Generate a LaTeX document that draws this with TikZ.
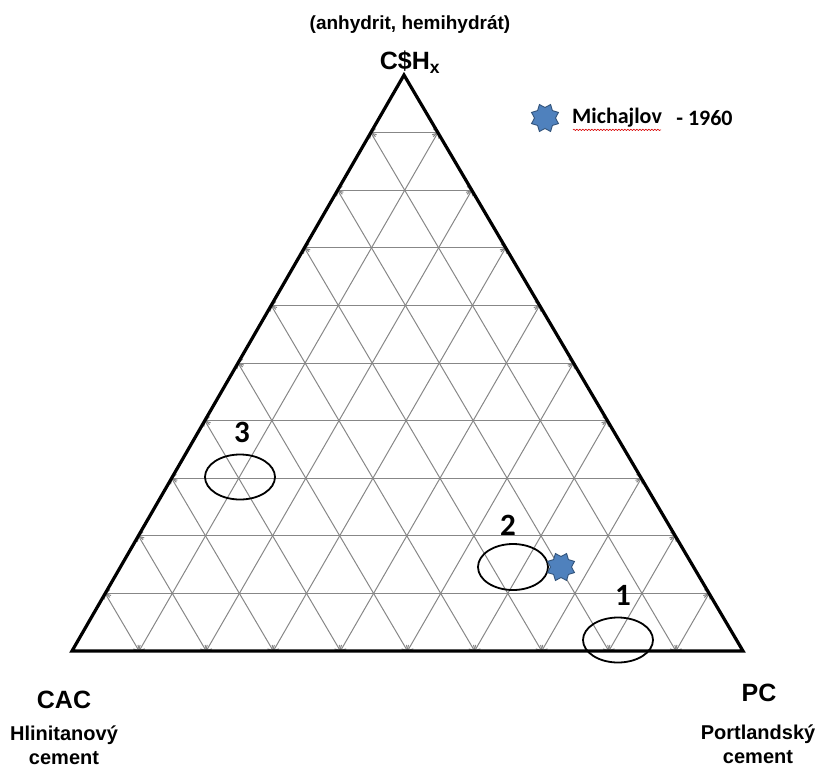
\documentclass[tikz,border=0pt]{standalone}
\usepackage{fontspec}
\setmainfont{Liberation Sans}
\newfontfamily\calibfont{Carlito}
\usetikzlibrary{calc,positioning,arrows.meta,shapes.geometric,decorations.pathmorphing}
\definecolor{starblue}{RGB}{79,129,189}
\definecolor{gridgray}{RGB}{135,135,135}

\begin{document}
\begin{tikzpicture}[x=1pt,y=-1pt,
  gridline/.style={gridgray,line width=1pt},
  barb/.tip={Straight Barb[length=4pt,width=8pt,line width=1pt]},
  side/.style={line width=3.2pt,line join=miter},
  zone/.style={line width=1.8pt},
  corner/.style={font=\bfseries\fontsize{25}{30}\selectfont},
  subname/.style={font=\bfseries\fontsize{20}{24}\selectfont,align=center},
  zonenum/.style={font=\calibfont\bfseries\fontsize{31}{36}\selectfont},
  legtext/.style={font=\calibfont\bfseries\fontsize{22}{26}\selectfont,inner sep=0pt},
  michstar/.style={star,star points=8,star point ratio=0.72,minimum size=21pt,
    inner sep=0pt,fill=starblue,draw=starblue!65!black,line width=0.9pt}
]
\useasboundingbox (0,0) rectangle (817,769);

% Corners of the diagram
\coordinate (CAC) at (72,651);
\coordinate (PC) at (743,651);
\coordinate (CSH) at (404,75);

% Grid every 10 %
\foreach \k in {1,...,9}{
  \coordinate (L\k) at ($(CAC)!\k/10!(CSH)$);
  \coordinate (R\k) at ($(PC)!\k/10!(CSH)$);
  \coordinate (B\k) at ($(CAC)!\k/10!(PC)$);
}
\foreach \k in {1,...,9}{
  \pgfmathtruncatemacro\j{10-\k}
  \draw[gridline,barb-barb] (L\k) -- (R\k);
  \draw[gridline,barb-barb] (L\k) -- (B\k);
  \draw[gridline,barb-barb] (R\j) -- (B\k);
}

% Triangle
\draw[side] (CAC) -- (PC) -- (CSH) -- cycle;

% Corner labels
\node[font=\bfseries\fontsize{19}{23}\selectfont] (minerals) at (410,25) {(anhydrit, hemihydrát)};
\node[corner] (cshlabel) at (410,62) {C\$H\textsubscript{x}};
\node[corner] (caclabel) at (64,700) {CAC};
\node[subname] (cacname) at (64,745) {Hlinitanový\\cement};
\node[corner] (pclabel) at (759,693) {PC};
\node[subname] (pcname) at (758,744) {Portlandský\\cement};

% Zones
\draw[zone] (240,477) ellipse [x radius=35pt,y radius=22.5pt];
\draw[zone] (513,567) ellipse [x radius=35pt,y radius=23pt];
\draw[zone] (618,640) ellipse [x radius=35pt,y radius=22.5pt];
\node[zonenum] (zone3) at (242,432) {3};
\node[zonenum] (zone2) at (508,525) {2};
\node[zonenum] (zone1) at (623,595) {1};

% Michajlov point and legend
\node[michstar] (mich) at (561,567) {};
\node[michstar] (legstar) at (545,118) {};
\node[legtext,anchor=west] (legname) at (572,118) {Michajlov};
\node[legtext,right=14pt of legname] (legyear) {- 1960};
\draw[red!85!black,line width=0.6pt,decorate,
  decoration={snake,amplitude=0.7pt,segment length=3pt}]
  ($(legname.base west)+(1,6)$) -- ($(legname.base east)+(-1,6)$);

\end{tikzpicture}
\end{document}
